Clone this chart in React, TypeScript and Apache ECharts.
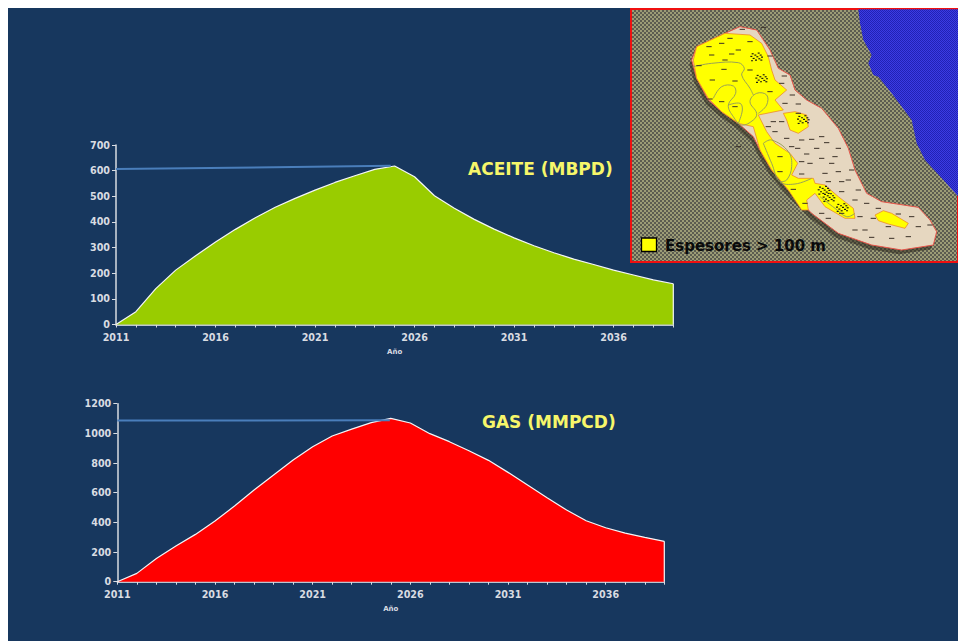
import React, { useEffect, useRef } from "react";
import * as echarts from "echarts";

const years = [2011,2012,2013,2014,2015,2016,2017,2018,2019,2020,2021,2022,2023,2024,2025,2026,2027,2028,2029,2030,2031,2032,2033,2034,2035,2036,2037,2038,2039];
const aceite = [0,50,140,212,268,322,371,416,457,492,524,554,580,605,618,576,502,453,410,372,338,307,280,255,234,212,193,174,159];
const gas = [0,56,157,240,319,409,510,618,719,820,910,982,1029,1072,1101,1070,998,944,883,818,737,652,566,483,411,364,328,299,272];
const aceiteRef = [[2011,606],[2024.8,619]];
const gasRef = [[2011,1086],[2024.95,1088]];

const NAVY = "#17375e";
const AXIS = "#d9dce2";
const FONT = "'DejaVu Sans', Verdana, sans-serif";

// inset map outlines (pixels of the 3x inset drawing)
const seaPts = [[700,28],[1000,28],[1000,590],[960,545],[900,480],[875,430],[860,360],[800,280],[760,230],[745,225],[730,190],[740,165],[715,120],[705,70]];
const landPts = [[300,100],[345,80],[395,90],[435,150],[460,205],[495,225],[510,270],[545,300],[590,325],[640,385],[670,445],[690,510],[725,580],[770,605],[880,622],[915,660],[935,695],[925,735],[830,750],[740,735],[640,700],[560,640],[490,570],[440,510],[405,450],[385,410],[340,370],[290,335],[250,300],[215,235],[200,180],[215,140]];
const yellowMain = [[205,180],[215,140],[300,100],[375,105],[410,130],[430,170],[440,210],[450,240],[485,270],[450,300],[475,330],[400,345],[425,395],[450,430],[495,460],[518,490],[500,525],[520,535],[565,535],[570,550],[600,555],[640,590],[685,625],[690,655],[660,655],[600,620],[570,580],[545,600],[550,630],[530,630],[490,570],[440,510],[405,450],[385,380],[340,370],[290,335],[250,295],[215,235]];
const yellowBlob = [[475,340],[510,335],[545,345],[550,380],[520,400],[495,390],[485,360]];
const yellowSmall = [[750,645],[775,632],[800,640],[850,670],[840,685],[790,672],[760,662]];
const contours = [
  [[205,200],[260,190],[340,188],[358,205],[350,225],[375,265],[385,285]],
  [[265,295],[290,260],[325,258],[332,280],[310,315],[325,350],[350,375],[385,360],[395,340],[375,305],[395,280],[425,285],[425,315],[400,340]],
  [[310,315],[345,310],[352,330],[340,370]],
  [[415,430],[440,420],[490,455],[500,500],[485,540],[465,545]],
  [[415,430],[440,490],[465,545],[510,552],[560,535]],
  [[585,590],[630,625],[665,650],[690,640]],
];
const wells = [[352,88],[415,82],[375,125],[320,162],[252,140],[297,208],[262,240],[330,243],[222,197],[435,275],[290,305],[255,297],[330,320],[435,168],[478,228],[502,285],[520,312],[470,365],[445,365],[485,415],[530,420],[560,418],[605,428],[518,445],[545,462],[630,470],[590,475],[530,485],[555,490],[640,515],[600,520],[680,510],[465,515],[530,522],[700,570],[650,575],[610,655],[705,650],[745,655],[820,642],[860,650],[790,680],[690,690],[740,712],[915,675],[590,640],[505,568],[540,610],[430,380],[465,470],[650,545],[690,600],[340,440],[450,395],[500,440],[575,445],[620,490],[670,540],[610,545],[725,610],[760,625],[880,680],[850,710],[800,715],[650,640],[720,690],[480,310],[470,250],[315,115],[290,130],[340,150],[300,180],[375,210],[260,165],[520,340],[590,410],[640,445]];
const clusters = [[395,170],[410,235],[535,358],[597,570],[612,592],[652,622]];
const clusterMarks = [[-12,-9],[6,-11],[-4,-5],[12,-5],[-16,-1],[2,0],[16,1],[-9,5],[8,6],[-2,10],[-14,12],[14,10]];

function makePattern(a: string, b: string, cell: number) {
  const c = document.createElement("canvas");
  c.width = cell * 2; c.height = cell * 2;
  const x = c.getContext("2d")!;
  x.fillStyle = a; x.fillRect(0, 0, cell * 2, cell * 2);
  x.fillStyle = b; x.fillRect(0, 0, cell, cell); x.fillRect(cell, cell, cell, cell);
  return c;
}
const flatPts = (p: number[][], dx = 0, dy = 0) => p.map(([x, y]) => [625 + (x + dx) / 3, (y + dy) / 3]);

function mapGraphics() {
  const el: any[] = [];
  el.push({ type: "rect", shape: { x: 631, y: 9, width: 327, height: 253 }, style: { fill: { image: makePattern("#9c9c76", "#5c5c50", 2), repeat: "repeat" }, stroke: "#f01010", lineWidth: 2 } });
  el.push({ type: "polygon", shape: { points: flatPts(seaPts) }, style: { fill: { image: makePattern("#3c3ce4", "#2222b4", 1), repeat: "repeat" } } });
  el.push({ type: "polygon", shape: { points: flatPts(landPts, -7, 13) }, style: { fill: "rgba(45,42,30,0.55)" } });
  el.push({ type: "polygon", shape: { points: flatPts(landPts) }, style: { fill: "#e6d7c0", stroke: "#e8554a", lineWidth: 1 } });
  for (const p of [yellowMain, yellowBlob, yellowSmall]) {
    el.push({ type: "polygon", shape: { points: flatPts(p) }, style: { fill: "#ffff00", stroke: "#ee8a2a", lineWidth: 0.8 } });
  }
  for (const c of contours) {
    el.push({ type: "polyline", shape: { points: flatPts(c), smooth: 0.4 }, style: { fill: "none", stroke: "#9aa356", lineWidth: 1 } });
  }
  for (const [x, y] of wells) {
    el.push({ type: "line", shape: { x1: 625 + (x - 8) / 3, y1: y / 3, x2: 625 + (x + 8) / 3, y2: y / 3 }, style: { stroke: "#3a3026", lineWidth: 1 } });
  }
  for (const [x, y] of clusters) {
    for (const [dx, dy] of clusterMarks) {
      el.push({ type: "rect", shape: { x: 625 + (x + dx) / 3 - 1, y: (y + dy) / 3 - 0.5, width: 2, height: 1.2 }, style: { fill: "#1e1e12" } });
    }
  }
  el.push({ type: "rect", shape: { x: 641.5, y: 238, width: 15, height: 13.5 }, style: { fill: "#ffff00", stroke: "#000", lineWidth: 1.3 } });
  el.push({ type: "text", x: 665, y: 245.5, style: { text: "Espesores > 100 m", fill: "#0a0a0a", font: `bold 15px ${FONT}`, verticalAlign: "middle" } });
  return el;
}

function xAxis(gridIndex: number, nameGap: number) {
  return {
    type: "value", gridIndex, min: 2011, max: 2039, interval: 1,
    name: "Año", nameLocation: "middle", nameGap,
    nameTextStyle: { color: AXIS, fontSize: 7, fontWeight: "bold", fontFamily: FONT },
    axisLine: { onZero: false, lineStyle: { color: "#f4f6f8", width: 1.5 } },
    axisTick: { show: true, length: 3, lineStyle: { color: AXIS, width: 1 } },
    splitLine: { show: false },
    axisLabel: {
      color: AXIS, fontSize: 9.6, fontWeight: "bold", fontFamily: FONT, margin: 8, showMinLabel: true, showMaxLabel: true, hideOverlap: false,
      formatter: (v: number) => ((v - 2011) % 5 === 0 ? String(v) : ""),
    },
  };
}
function yAxis(gridIndex: number, max: number, interval: number) {
  return {
    type: "value", gridIndex, min: 0, max, interval,
    axisLine: { show: true, onZero: false, lineStyle: { color: AXIS, width: 1.5 } },
    axisTick: { show: true, length: 4, lineStyle: { color: AXIS, width: 1 } },
    splitLine: { show: false },
    axisLabel: { color: AXIS, fontSize: 9.6, fontWeight: "bold", fontFamily: FONT, margin: 6, formatter: (v: number) => String(v) },
  };
}
function seriesFor(i: number, values: number[], color: string, ref: number[][]) {
  const last = values.length - 1;
  const common = { type: "line", xAxisIndex: i, yAxisIndex: i, showSymbol: false, silent: true };
  return [
    { ...common, data: years.map((y, k) => [y, values[k]]), lineStyle: { color: "#f4f6f8", width: 1.2 }, areaStyle: { color, opacity: 1 } },
    { ...common, data: [[years[last], 0], [years[last], values[last]]], lineStyle: { color: "#f4f6f8", width: 1.2 } },
    { ...common, data: ref, z: 5, lineStyle: { color: "#4a7ebb", width: 2 } },
  ];
}

export default function App() {
  const ref = useRef<HTMLDivElement>(null);
  useEffect(() => {
    const chart = echarts.init(ref.current!, null, { renderer: "svg" });
    chart.setOption({
      animation: false,
      backgroundColor: "#ffffff",
      grid: [
        { left: 116, top: 145, width: 557.3, height: 179.5 },
        { left: 117.3, top: 403.7, width: 547, height: 178 },
      ],
      xAxis: [xAxis(0, 24), xAxis(1, 24)],
      yAxis: [yAxis(0, 700, 100), yAxis(1, 1200, 200)],
      series: [...seriesFor(0, aceite, "#99cc00", aceiteRef), ...seriesFor(1, gas, "#ff0000", gasRef)],
      graphic: [
        { type: "rect", z: -10, shape: { x: 8, y: 8, width: 950, height: 633 }, style: { fill: NAVY } },
        { type: "text", x: 468, y: 169, style: { text: "ACEITE (MBPD)", fill: "#f6f66a", font: `bold 17px ${FONT}`, verticalAlign: "middle" } },
        { type: "text", x: 482, y: 422, style: { text: "GAS (MMPCD)", fill: "#f6f66a", font: `bold 17px ${FONT}`, verticalAlign: "middle" } },
        { type: "group", z: 20, children: mapGraphics() },
      ],
    });
    return () => chart.dispose();
  }, []);
  return <div ref={ref} style={{ position: "fixed", left: 0, top: 0, width: 958, height: 641 }} />;
}
